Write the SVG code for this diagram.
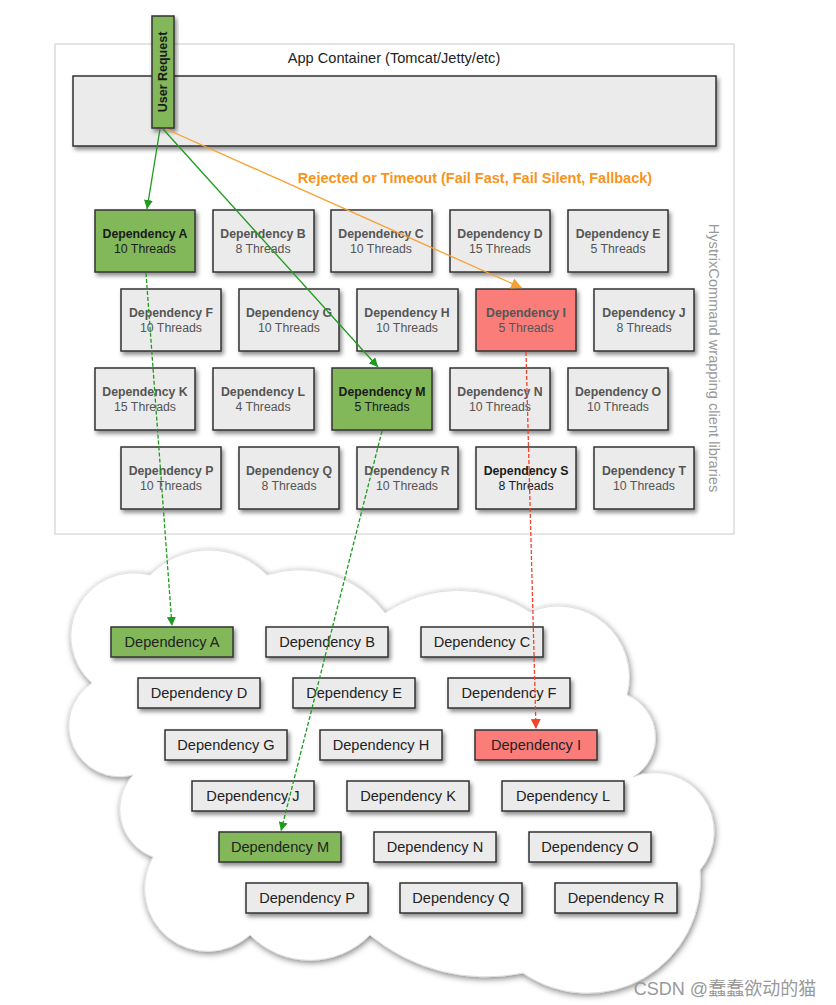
<svg xmlns="http://www.w3.org/2000/svg" width="836" height="1005" viewBox="0 0 836 1005">
<defs>
<filter id="sh" x="-20%" y="-20%" width="140%" height="150%">
<feDropShadow dx="2" dy="3" stdDeviation="2" flood-color="#000" flood-opacity="0.45"/>
</filter>
<filter id="csh" x="-10%" y="-10%" width="120%" height="120%">
<feDropShadow dx="1" dy="2" stdDeviation="3" flood-color="#000" flood-opacity="0.5"/>
</filter>
<marker id="ag" viewBox="0 0 10 10" refX="10" refY="5" markerWidth="9" markerHeight="9" markerUnits="userSpaceOnUse" orient="auto"><path d="M0,0 L10,5 L0,10 z" fill="#1e9a1e"/></marker>
<marker id="ao" viewBox="0 0 10 10" refX="10" refY="5" markerWidth="11" markerHeight="11" markerUnits="userSpaceOnUse" orient="auto"><path d="M0,0 L10,5 L0,10 z" fill="#f7a030"/></marker>
<marker id="ar" viewBox="0 0 10 10" refX="10" refY="5" markerWidth="10" markerHeight="10" markerUnits="userSpaceOnUse" orient="auto"><path d="M0,0 L10,5 L0,10 z" fill="#f4432a"/></marker>
</defs>
<style>
.box{fill:#ebebeb;stroke:#333;stroke-width:1.5;filter:url(#sh)}
.g{fill:#82b75a}
.r{fill:#fa7d7a}
.t1{font-family:"Liberation Sans",Arial,sans-serif;font-size:12.3px;font-weight:bold;fill:#555;text-anchor:middle}
.t2{font-family:"Liberation Sans",Arial,sans-serif;font-size:12.3px;fill:#555;text-anchor:middle}
.dk{fill:#1a1a1a}
.ct{font-family:"Liberation Sans",Arial,sans-serif;font-size:14.6px;fill:#222;text-anchor:middle}
.ln{fill:none;stroke-width:1.3}
</style>
<rect width="836" height="1005" fill="#fff"/>
<g id="container">
<rect x="55" y="44" width="679" height="490" fill="#fff" stroke="#dcdcdc" stroke-width="1.5"/>
<text x="394" y="63" font-family="Liberation Sans,Arial,sans-serif" font-size="14.6" fill="#222" text-anchor="middle">App Container (Tomcat/Jetty/etc)</text>
<rect class="box" x="73" y="76" width="643" height="70"/>
<text transform="translate(709,358) rotate(90)" font-family="Liberation Sans,Arial,sans-serif" font-size="14.6" fill="#999" text-anchor="middle">HystrixCommand wrapping client libraries</text>
</g>
<g id="user-request">
<rect class="box g" x="152" y="16" width="22" height="112"/>
<text transform="translate(167,72) rotate(-90)" font-family="Liberation Sans,Arial,sans-serif" font-size="12.5" font-weight="bold" fill="#1a1a1a" text-anchor="middle">User Request</text>
</g>
<text id="rejected-label" x="475" y="183" font-family="Liberation Sans,Arial,sans-serif" font-size="14.5" font-weight="bold" fill="#f7941d" text-anchor="middle">Rejected or Timeout (Fail Fast, Fail Silent, Fallback)</text>
<g id="hx-A"><rect class="box g" x="95" y="210" width="100" height="62"/><text class="t1 dk" x="145" y="238">Dependency A</text><text class="t2 dk" x="145" y="253">10 Threads</text></g>
<g id="hx-B"><rect class="box" x="213" y="210" width="101" height="62"/><text class="t1" x="263" y="238">Dependency B</text><text class="t2" x="263" y="253">8 Threads</text></g>
<g id="hx-C"><rect class="box" x="331" y="210" width="101" height="62"/><text class="t1" x="381" y="238">Dependency C</text><text class="t2" x="381" y="253">10 Threads</text></g>
<g id="hx-D"><rect class="box" x="450" y="210" width="100" height="62"/><text class="t1" x="500" y="238">Dependency D</text><text class="t2" x="500" y="253">15 Threads</text></g>
<g id="hx-E"><rect class="box" x="568" y="210" width="100" height="62"/><text class="t1" x="618" y="238">Dependency E</text><text class="t2" x="618" y="253">5 Threads</text></g>
<g id="hx-F"><rect class="box" x="121" y="289" width="100" height="62"/><text class="t1" x="171" y="317">Dependency F</text><text class="t2" x="171" y="332">10 Threads</text></g>
<g id="hx-G"><rect class="box" x="239" y="289" width="100" height="62"/><text class="t1" x="289" y="317">Dependency G</text><text class="t2" x="289" y="332">10 Threads</text></g>
<g id="hx-H"><rect class="box" x="357" y="289" width="101" height="62"/><text class="t1" x="407" y="317">Dependency H</text><text class="t2" x="407" y="332">10 Threads</text></g>
<g id="hx-I"><rect class="box r" x="476" y="289" width="100" height="62"/><text class="t1" x="526" y="317">Dependency I</text><text class="t2" x="526" y="332">5 Threads</text></g>
<g id="hx-J"><rect class="box" x="594" y="289" width="100" height="62"/><text class="t1" x="644" y="317">Dependency J</text><text class="t2" x="644" y="332">8 Threads</text></g>
<g id="hx-K"><rect class="box" x="95" y="368" width="100" height="62"/><text class="t1" x="145" y="396">Dependency K</text><text class="t2" x="145" y="411">15 Threads</text></g>
<g id="hx-L"><rect class="box" x="213" y="368" width="101" height="62"/><text class="t1" x="263" y="396">Dependency L</text><text class="t2" x="263" y="411">4 Threads</text></g>
<g id="hx-M"><rect class="box g" x="332" y="368" width="100" height="62"/><text class="t1 dk" x="382" y="396">Dependency M</text><text class="t2 dk" x="382" y="411">5 Threads</text></g>
<g id="hx-N"><rect class="box" x="450" y="368" width="100" height="62"/><text class="t1" x="500" y="396">Dependency N</text><text class="t2" x="500" y="411">10 Threads</text></g>
<g id="hx-O"><rect class="box" x="568" y="368" width="100" height="62"/><text class="t1" x="618" y="396">Dependency O</text><text class="t2" x="618" y="411">10 Threads</text></g>
<g id="hx-P"><rect class="box" x="121" y="447" width="100" height="62"/><text class="t1" x="171" y="475">Dependency P</text><text class="t2" x="171" y="490">10 Threads</text></g>
<g id="hx-Q"><rect class="box" x="239" y="447" width="100" height="62"/><text class="t1" x="289" y="475">Dependency Q</text><text class="t2" x="289" y="490">8 Threads</text></g>
<g id="hx-R"><rect class="box" x="357" y="447" width="101" height="62"/><text class="t1" x="407" y="475">Dependency R</text><text class="t2" x="407" y="490">10 Threads</text></g>
<g id="hx-S"><rect class="box" x="476" y="447" width="100" height="62"/><text class="t1 dk" x="526" y="475">Dependency S</text><text class="t2 dk" x="526" y="490">8 Threads</text></g>
<g id="hx-T"><rect class="box" x="594" y="447" width="100" height="62"/><text class="t1" x="644" y="475">Dependency T</text><text class="t2" x="644" y="490">10 Threads</text></g>
<g id="cloud">
<path filter="url(#csh)" fill="#fff" stroke="#dddddd" stroke-width="0.8" d="M150,575 A81,81 0 0 1 267,575 A106,106 0 0 1 385,613 A130,130 0 0 1 530,612 A71,71 0 0 1 627,695 A46,46 0 0 1 633,777 A59,59 0 0 1 700,870 A113,113 0 0 1 523,973 A182,182 0 0 1 370,935 A84,84 0 0 1 250,935 A63,63 0 0 1 153,857 A51,51 0 0 1 133,775 A51,51 0 0 1 92,683 A63,63 0 0 1 150,575 Z"/>
</g>
<g id="lib-A"><rect class="box g" x="111" y="627" width="122" height="30"/><text class="ct" x="172" y="647">Dependency A</text></g>
<g id="lib-B"><rect class="box" x="266" y="627" width="122" height="30"/><text class="ct" x="327" y="647">Dependency B</text></g>
<g id="lib-C"><rect class="box" x="421" y="627" width="122" height="30"/><text class="ct" x="482" y="647">Dependency C</text></g>
<g id="lib-D"><rect class="box" x="138" y="678" width="122" height="30"/><text class="ct" x="199" y="698">Dependency D</text></g>
<g id="lib-E"><rect class="box" x="293" y="678" width="122" height="30"/><text class="ct" x="354" y="698">Dependency E</text></g>
<g id="lib-F"><rect class="box" x="448" y="678" width="122" height="30"/><text class="ct" x="509" y="698">Dependency F</text></g>
<g id="lib-G"><rect class="box" x="165" y="730" width="122" height="30"/><text class="ct" x="226" y="750">Dependency G</text></g>
<g id="lib-H"><rect class="box" x="320" y="730" width="122" height="30"/><text class="ct" x="381" y="750">Dependency H</text></g>
<g id="lib-I"><rect class="box r" x="475" y="730" width="122" height="30"/><text class="ct" x="536" y="750">Dependency I</text></g>
<g id="lib-J"><rect class="box" x="192" y="781" width="122" height="30"/><text class="ct" x="253" y="801">Dependency J</text></g>
<g id="lib-K"><rect class="box" x="347" y="781" width="122" height="30"/><text class="ct" x="408" y="801">Dependency K</text></g>
<g id="lib-L"><rect class="box" x="502" y="781" width="122" height="30"/><text class="ct" x="563" y="801">Dependency L</text></g>
<g id="lib-M"><rect class="box g" x="219" y="832" width="122" height="30"/><text class="ct" x="280" y="852">Dependency M</text></g>
<g id="lib-N"><rect class="box" x="374" y="832" width="122" height="30"/><text class="ct" x="435" y="852">Dependency N</text></g>
<g id="lib-O"><rect class="box" x="529" y="832" width="122" height="30"/><text class="ct" x="590" y="852">Dependency O</text></g>
<g id="lib-P"><rect class="box" x="246" y="883" width="122" height="30"/><text class="ct" x="307" y="903">Dependency P</text></g>
<g id="lib-Q"><rect class="box" x="400" y="883" width="122" height="30"/><text class="ct" x="461" y="903">Dependency Q</text></g>
<g id="lib-R"><rect class="box" x="555" y="883" width="122" height="30"/><text class="ct" x="616" y="903">Dependency R</text></g>
<g id="connectors">
<line class="ln" x1="160" y1="129" x2="147" y2="209" stroke="#1e9a1e" marker-end="url(#ag)"/>
<line class="ln" x1="163" y1="129" x2="378" y2="367" stroke="#1e9a1e" marker-end="url(#ag)"/>
<line class="ln" x1="166" y1="129" x2="522" y2="288" stroke="#f7a030" marker-end="url(#ao)"/>
<line class="ln" x1="146" y1="273" x2="172" y2="626" stroke="#1e9a1e" stroke-dasharray="4 2" marker-end="url(#ag)"/>
<line class="ln" x1="382" y1="431" x2="281" y2="831" stroke="#1e9a1e" stroke-dasharray="4 2" marker-end="url(#ag)"/>
<line class="ln" x1="526" y1="352" x2="536" y2="729" stroke="#f4432a" stroke-dasharray="4 2" marker-end="url(#ar)"/>
</g>
<text x="725" y="995" font-family="Liberation Sans,Noto Sans CJK SC,sans-serif" font-size="18" fill="#999" text-anchor="middle">CSDN @蠢蠢欲动的猫</text>
</svg>
